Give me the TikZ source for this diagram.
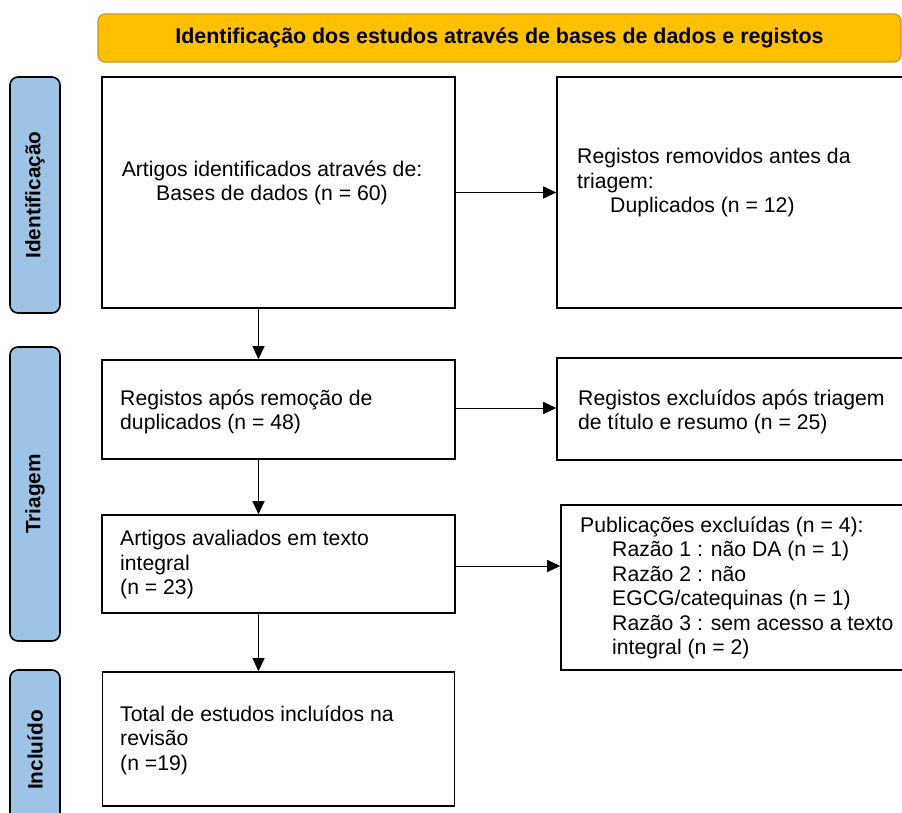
\documentclass[tikz,border=0pt]{standalone}
\usepackage{fontspec}
\setmainfont{Liberation Sans}
\usetikzlibrary{arrows.meta, positioning}
\definecolor{bannergold}{HTML}{FFC000}
\definecolor{bannerline}{HTML}{C49A1C}
\definecolor{phaseblue}{HTML}{9DC3E6}

\begin{document}
\begin{tikzpicture}[
        x=1pt, y=-1pt,
        box/.style={draw, line width=1.6pt, rectangle, inner sep=0pt},
        phase/.style={draw, line width=1.6pt, rounded corners=8pt, fill=phaseblue, inner sep=0pt, rotate=90, font=\fontsize{20.8}{22}\selectfont\bfseries},
        banner/.style={draw=bannerline, line width=1.2pt, rounded corners=7pt, fill=bannergold, inner sep=0pt, font=\fontsize{21.4}{22}\selectfont\bfseries},
        txt/.style={anchor=west, align=left, inner sep=0pt, font=\fontsize{21.2}{24.5}\selectfont},
        flow/.style={line width=1pt, -{Triangle[length=13pt, width=12pt]}}
    ]
    \clip (0,0) rectangle (902,813);

    % Banner
    \node[banner, minimum width=803, minimum height=48] (head) at (499.5,38) {Identificação dos estudos através de bases de dados e registos};

    % Phase labels
    \node[phase, minimum width=236, minimum height=50] (pid) at (35,195) {Identificação};
    \node[phase, minimum width=294, minimum height=50] (ptri) at (35,494) {Triagem};
    \node[phase, minimum width=160, minimum height=50] (pinc) at (35,750) {Incluído};

    % Boxes
    \node[box, minimum width=353, minimum height=231] (ident) at (278.5,192.5) {};
    \node[box, minimum width=368, minimum height=231] (removed) at (741,192.5) {};
    \node[box, minimum width=353, minimum height=99] (screened) at (278.5,409.5) {};
    \node[box, minimum width=368, minimum height=102] (excluded) at (741,409) {};
    \node[box, minimum width=353, minimum height=98] (fulltext) at (278.5,564) {};
    \node[box, minimum width=364, minimum height=165] (fullexcl) at (743,587.5) {};
    \node[box, minimum width=352, minimum height=134] (included) at (278.5,739) {};

    % Box texts
    \node[txt, anchor=center, align=center] (tident) at (272,183) {Artigos identificados através de:\\Bases de dados (n = 60)};
    \node[txt] (tremoved) at (577,183) {Registos removidos antes da\\triagem:\\\hspace*{33pt}Duplicados (n = 12)};
    \node[txt] (tscreened) at (120,412) {Registos após remoção de\\duplicados (n = 48)};
    \node[txt] (texcluded) at (578,412) {Registos excluídos após triagem\\de título e resumo (n = 25)};
    \node[txt] (tfulltext) at (120,565) {Artigos avaliados em texto\\integral\\(n = 23)};
    \node[txt] (tfullexcl) at (580,588) {Publicações excluídas (n = 4):\\\hspace*{32pt}Razão 1 : não DA (n = 1)\\\hspace*{32pt}Razão 2 : não\\\hspace*{32pt}EGCG/catequinas (n = 1)\\\hspace*{32pt}Razão 3 : sem acesso a texto\\\hspace*{32pt}integral (n = 2)};
    \node[txt] (tincluded) at (120,740) {Total de estudos incluídos na\\revisão\\(n =19)};

    % Arrows
    \draw[flow] ([xshift=-20pt]ident.south) -- ([xshift=-20pt]screened.north);
    \draw[flow] ([xshift=-20pt]screened.south) -- ([xshift=-20pt]fulltext.north);
    \draw[flow] ([xshift=-20pt]fulltext.south) -- ([xshift=-20pt]included.north);
    \draw[flow] (ident.east) -- (removed.west);
    \draw[flow] ([yshift=1.5pt]screened.east) -- ([yshift=1.5pt]screened.east -| excluded.west);
    \draw[flow] ([yshift=-2pt]fulltext.east) -- ([yshift=-2pt]fulltext.east -| fullexcl.west);

\end{tikzpicture}
\end{document}
